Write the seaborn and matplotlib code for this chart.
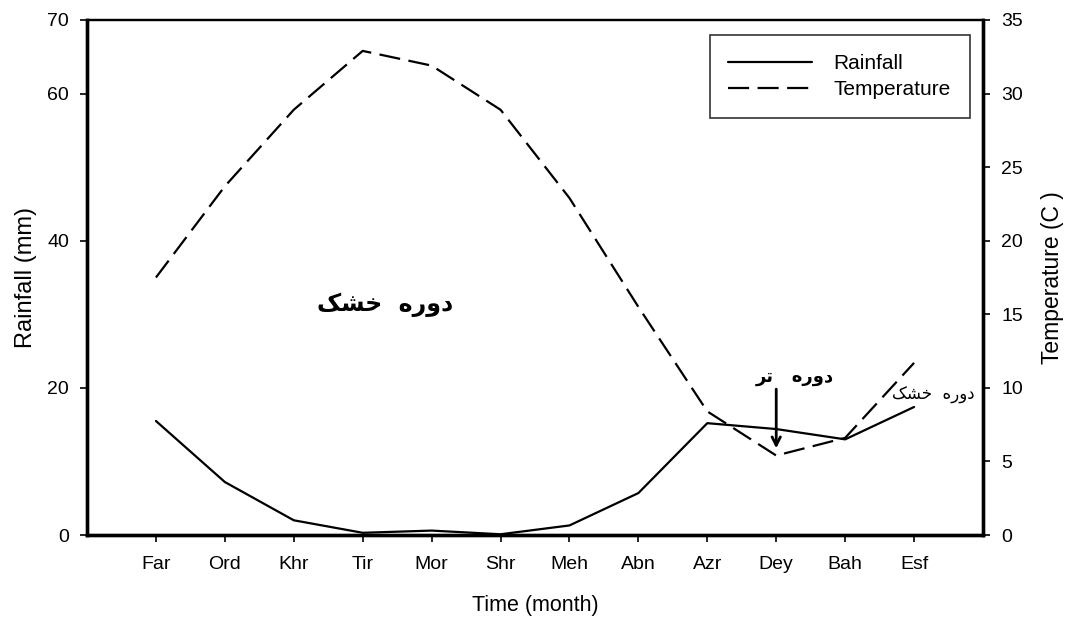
import numpy as np
import pandas as pd
import matplotlib
matplotlib.use("Agg")
import matplotlib.pyplot as plt
import seaborn as sns

months = ["Far", "Ord", "Khr", "Tir", "Mor", "Shr", "Meh", "Abn", "Azr", "Dey", "Bah", "Esf"]
rainfall = [15.5, 7.2, 2.0, 0.3, 0.6, 0.1, 1.3, 5.7, 15.2, 14.4, 13.0, 17.4]
temperature = [17.5, 23.7, 28.9, 32.9, 31.9, 28.9, 22.9, 15.5, 8.4, 5.4, 6.6, 11.7]
rain_ticks = [0, 20, 40, 60, 70]
temp_ticks = [0, 5, 10, 15, 20, 25, 30, 35]

# Persian labels written with Arabic presentation forms (visual order)
dry_label = "\uFB8F\uFEB8\uFEA7  \uFEE9\uFEAD\uFEED\uFEA9"     # دوره خشک
wet_label = "\uFEAE\uFE97   \uFEE9\uFEAD\uFEED\uFEA9"          # دوره تر

sns.set_style("ticks")
plt.rcParams["font.family"] = ["Liberation Sans", "DejaVu Sans"]
plt.rcParams["text.color"] = "black"
plt.rcParams["axes.labelcolor"] = "black"
plt.rcParams["xtick.color"] = "black"
plt.rcParams["ytick.color"] = "black"

df = pd.DataFrame({"x": np.arange(len(months)), "rain": rainfall, "temp": temperature})

fig = plt.figure(figsize=(10.65, 6.19), dpi=100)
ax = fig.add_axes([0.0817, 0.1357, 0.8413, 0.832])
ax2 = ax.twinx()

sns.lineplot(data=df, x="x", y="rain", ax=ax, color="black", lw=1.6, label="Rainfall", legend=False)
sns.lineplot(data=df, x="x", y="temp", ax=ax2, color="black", lw=1.6, label="Temperature", legend=False)
ax2.lines[0].set_dashes((9.5, 3.8))

ax.set_xlim(-1, 12)
ax.set_ylim(0, 70)
ax2.set_ylim(0, 35)
ax.set_xticks(df["x"], months)
ax.set_yticks(rain_ticks)
ax2.set_yticks(temp_ticks)

for a in (ax, ax2):
    for s in a.spines.values():
        s.set_visible(True)
        s.set_linewidth(2.4)
        s.set_color("black")
    a.spines["top"].set_linewidth(1.6)
    a.tick_params(labelsize=14, length=5, width=1.2, pad=8, colors="black", direction="out")
ax.tick_params(axis="x", pad=10)

ax.set_xlabel("Time (month)", fontsize=15.5, labelpad=16)
ax.set_ylabel("Rainfall (mm)", fontsize=17, labelpad=7)
ax2.set_ylabel("Temperature (C )", fontsize=16.5, labelpad=13)

handles = [ax.lines[0], ax2.lines[0]]
leg = ax.legend(handles, ["Rainfall", "Temperature"], loc="upper right",
                bbox_to_anchor=(0.985, 0.97), fontsize=15, frameon=True,
                fancybox=False, handlelength=4.0, handletextpad=1.05,
                borderpad=0.9, labelspacing=0.35, borderaxespad=0.0)
leg.get_frame().set_edgecolor("black")
leg.get_frame().set_linewidth(1.2)

ax.text(3.32, 31.3, dry_label, family="DejaVu Sans", fontsize=17, fontweight="bold",
        ha="center", va="center")
ax.text(9.27, 21.5, wet_label, family="DejaVu Sans", fontsize=13, fontweight="bold",
        ha="center", va="center")
ax.text(11.28, 19.0, dry_label, family="DejaVu Sans", fontsize=12,
        ha="center", va="center")
ax.annotate("", xy=(9.0, 11.4), xytext=(9.0, 20.2),
            arrowprops=dict(arrowstyle="->,head_length=0.6,head_width=0.3", color="black", lw=2))

fig.savefig("out.png", dpi=100)
